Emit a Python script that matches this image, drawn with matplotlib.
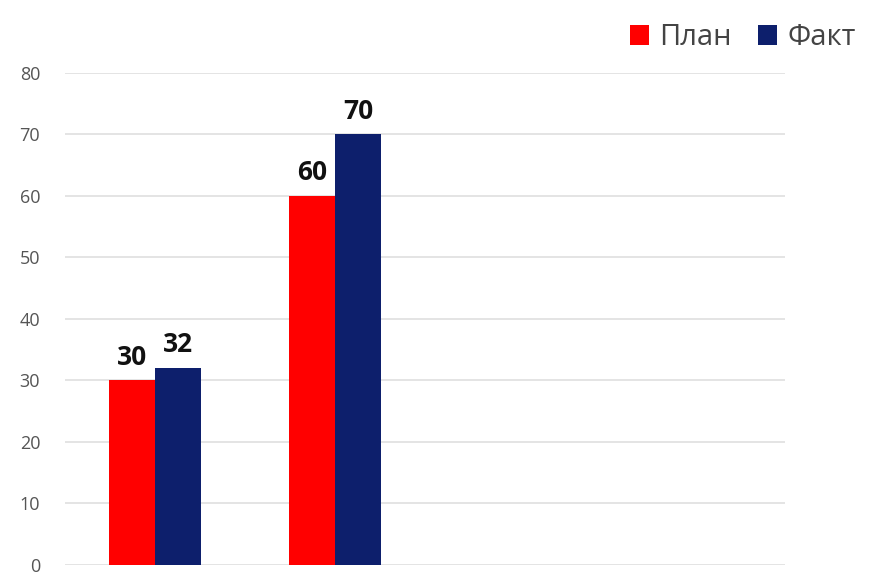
import matplotlib.pyplot as plt
import numpy as np

plt.rcParams['font.family'] = ['Open Sans', 'DejaVu Sans']

# данные
plan = [30, 60]
fact = [32, 70]
n_slots = 4
y_ticks = [0, 10, 20, 30, 40, 50, 60, 70, 80]

red = '#ff0000'
navy = '#0d1f6c'

fig = plt.figure(figsize=(8.69, 5.75), dpi=100)
ax = fig.add_axes([0.075, 0.0174, 0.828, 0.856])

x = np.arange(len(plan))
w = 0.255
b1 = ax.bar(x - w / 2, plan, w, color=red, label='План', zorder=3)
b2 = ax.bar(x + w / 2, fact, w, color=navy, label='Факт', zorder=3)

for bars in (b1, b2):
    for rect in bars:
        ax.annotate(f'{rect.get_height():.0f}',
                    (rect.get_x() + rect.get_width() / 2, rect.get_height()),
                    xytext=(0, 7), textcoords='offset points',
                    ha='center', va='bottom', fontsize=19, fontweight='bold',
                    color='#111111')

ax.set_xlim(-0.5, n_slots - 0.5)
ax.set_ylim(0, 80)
ax.set_yticks(y_ticks)
ax.set_xticks([])
ax.tick_params(axis='y', length=0, labelsize=13, labelcolor='#555555', pad=18)
ax.grid(axis='y', color='#e2e2e2', linewidth=1.3, zorder=0)
for s in ax.spines.values():
    s.set_visible(False)

fig.legend(handles=[b1, b2], loc='upper right', bbox_to_anchor=(1.015, 1.005),
           ncol=2, frameon=False, fontsize=21, handlelength=0.65,
           handleheight=0.65, handletextpad=0.35, columnspacing=0.9,
           labelcolor='#444444')

fig.savefig('out.png', dpi=100)
